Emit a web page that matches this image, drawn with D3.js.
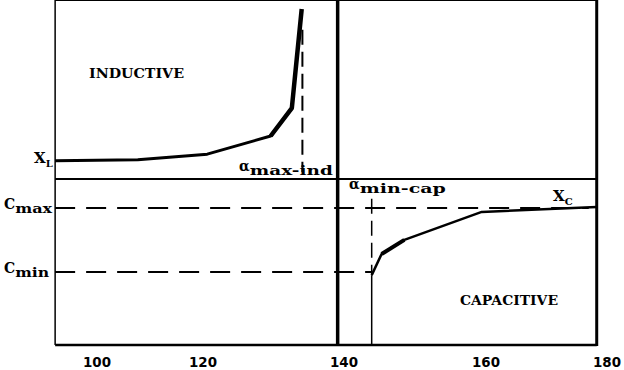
<!DOCTYPE html>
<html>
<head>
<meta charset="utf-8">
<script src="https://cdn.jsdelivr.net/npm/d3@7"></script>
<style>
  body { margin: 0; background: #fff; }
  svg { display: block; }
  .lbl { font-family: "DejaVu Serif", serif; font-weight: bold; fill: #000; }
  .tick { font-family: "DejaVu Sans", sans-serif; font-weight: bold; font-size: 14px; fill: #000; }
</style>
</head>
<body>
<svg id="chart"></svg>
<script>
// x ticks (angle, degrees) and the frame limits
var xTicks = [100, 120, 140, 160, 180];
var xFrame = [92.1, 178.3];

// inductive branch X_L (thin part then steep part)
var indX = [92.1, 107.7, 120.6, 129.6, 132.6, 134.0];
var indY = [54.8, 55.1, 56.8, 62.2, 70.5, 100];

// capacitive branch X_C
var capX = [143.9, 145.3, 148.5, 159.4, 178.3];
var capY = [20.8, 27.1, 31.3, 39.6, 41.1];

// reference levels / angles
var resonanceX = 139.1;
var splitY = 49.4;
var cMaxY = 40.8;
var cMinY = 21.7;
var alphaMaxInd = 134.1;
var alphaMinCap = 143.9;

var width = 624, height = 370;
var svg = d3.select('#chart').attr('width', width).attr('height', height);

// tick labels on the drawing are not evenly spaced, so use a polylinear scale
var x = d3.scaleLinear().domain(xTicks).range([97, 203, 344, 486, 607]);
var y = d3.scaleLinear().domain([0, 100]).range([345, 9]);

var left = x(xFrame[0]), right = x(xFrame[1]), top = y(100), bottom = y(0);

function seg(x1, y1, x2, y2, w, dash) {
    var l = svg.append('line')
        .attr('x1', x1).attr('y1', y1).attr('x2', x2).attr('y2', y2)
        .attr('stroke', '#000').attr('stroke-width', w);
    if (dash) l.attr('stroke-dasharray', dash);
    return l;
}

// frame
seg(left, top, right, top, 2);
seg(left, top, left, bottom, 1.5);
seg(left, bottom, right, bottom, 2.5);
seg(right, top - 1, right, bottom + 1, 3);

// resonance line and split line
seg(x(resonanceX), top + 2, x(resonanceX), bottom, 3.5);
seg(left, y(splitY), right, y(splitY), 2);

// C max / C min dashed levels
seg(left, y(cMaxY), x(capX[capX.length - 1]) - 8, y(cMaxY), 2, '20,11');
seg(left, y(cMinY), x(alphaMinCap), y(cMinY), 2, '20,11');

// alpha max ind dashed vertical
seg(x(alphaMaxInd), y(93.8), x(alphaMaxInd), y(51.5), 2, '15,7');
// alpha min cap: dashed above curve start, solid below
seg(x(alphaMinCap), y(43.5), x(alphaMinCap), y(capY[0]), 1.5, '15,7');
seg(x(alphaMinCap), y(capY[0]), x(alphaMinCap), bottom, 1.5);

var line = d3.line().x(d => x(d[0])).y(d => y(d[1]));
var ind = d3.zip(indX, indY);
var cap = d3.zip(capX, capY);

svg.append('path').attr('d', line(ind.slice(0, 5)))
    .attr('fill', 'none').attr('stroke', '#000').attr('stroke-width', 3).attr('stroke-linejoin', 'round');
svg.append('path').attr('d', line(ind.slice(3)))
    .attr('fill', 'none').attr('stroke', '#000').attr('stroke-width', 4.5).attr('stroke-linejoin', 'round');
svg.append('path').attr('d', line(cap))
    .attr('fill', 'none').attr('stroke', '#000').attr('stroke-width', 2.5).attr('stroke-linejoin', 'round');
svg.append('path').attr('d', line(cap.slice(1, 3)))
    .attr('fill', 'none').attr('stroke', '#000').attr('stroke-width', 4);

// x tick labels
svg.selectAll('.tick').data(xTicks).enter().append('text')
    .attr('class', 'tick')
    .attr('x', d => x(d)).attr('y', 367)
    .attr('text-anchor', 'middle')
    .attr('textLength', 28).attr('lengthAdjust', 'spacingAndGlyphs')
    .text(d => d);

// region labels
svg.append('text').attr('class', 'lbl').attr('x', 89).attr('y', 78)
    .attr('font-size', 13.5).attr('textLength', 95).attr('lengthAdjust', 'spacingAndGlyphs').text('INDUCTIVE');
svg.append('text').attr('class', 'lbl').attr('x', 460).attr('y', 305)
    .attr('font-size', 13.5).attr('textLength', 98).attr('lengthAdjust', 'spacingAndGlyphs').text('CAPACITIVE');

// labels with subscripts
function subLabel(px, py, main, sub, size, subSize, subLen) {
    var t = svg.append('text').attr('class', 'lbl').attr('x', px).attr('y', py).attr('font-size', size);
    t.append('tspan').text(main);
    var s = t.append('tspan').attr('font-size', subSize).attr('dy', 4).text(sub);
    if (subLen) s.attr('textLength', subLen).attr('lengthAdjust', 'spacingAndGlyphs');
    return t;
}
subLabel(34, y(indY[0]) + 2, 'X', 'L', 15, 10);
subLabel(4, y(cMaxY) + 1, 'C', 'max', 14, 12, 37);
subLabel(4, y(cMinY) + 1, 'C', 'min', 14, 12, 34);
subLabel(553, 201, 'X', 'C', 15, 10);
subLabel(239, 171, 'α', 'max-ind', 14, 12, 83);
subLabel(349, 189, 'α', 'min-cap', 14, 12, 86);
</script>
</body>
</html>
